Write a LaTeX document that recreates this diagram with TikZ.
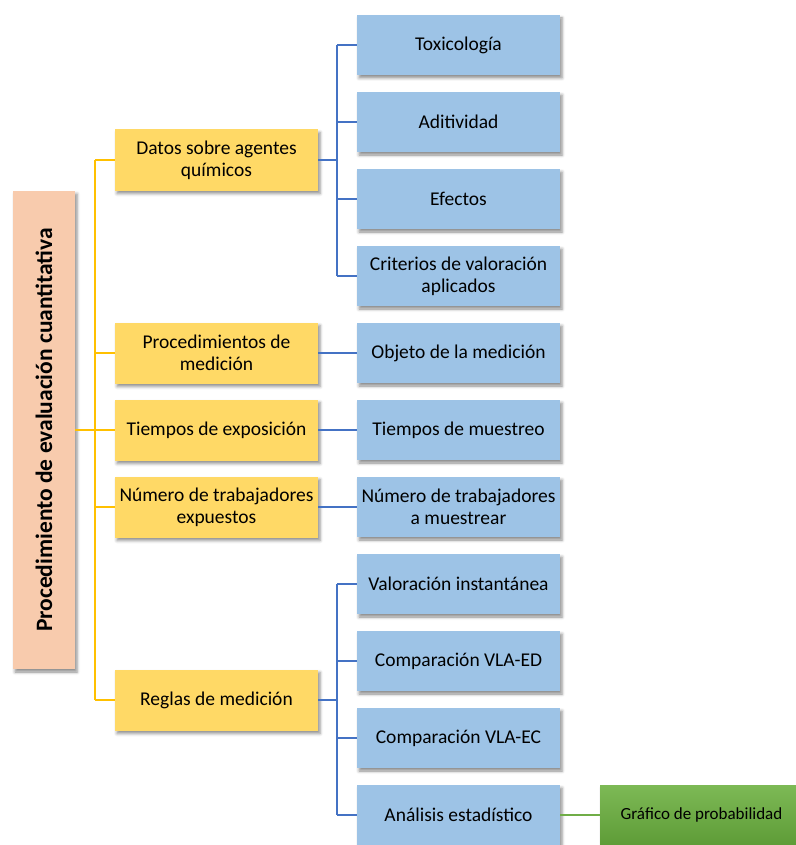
\documentclass[tikz,border=0pt]{standalone}
\usepackage{fontspec}
\setmainfont{Carlito}
\usetikzlibrary{shadows.blur}
\definecolor{peach}{HTML}{F8CBAD}
\definecolor{ybox}{HTML}{FFD966}
\definecolor{bbox}{HTML}{9DC3E6}
\definecolor{gtop}{HTML}{7DB955}
\definecolor{gbot}{HTML}{5E9C37}
\definecolor{yline}{HTML}{FFC000}
\definecolor{bline}{HTML}{4472C4}
\definecolor{gline}{HTML}{70AD47}
\tikzset{
  boxbase/.style={rectangle, inner sep=0pt, align=center,
    font=\fontsize{19.5}{22}\selectfont,
    blur shadow={shadow xshift=2pt, shadow yshift=-3pt, shadow blur radius=3pt, shadow opacity=45}},
  rootbox/.style={boxbase, fill=peach, rotate=90, minimum width=478pt, minimum height=62pt,
    font=\fontsize{23.5}{27}\selectfont\bfseries},
  ybox/.style={boxbase, fill=ybox, minimum width=203pt, minimum height=61pt},
  bbox/.style={boxbase, fill=bbox, minimum width=203pt, minimum height=60pt},
  gbox/.style={boxbase, top color=gtop, bottom color=gbot, minimum width=203pt, minimum height=60pt,
    font=\fontsize{17}{20}\selectfont},
  ylink/.style={draw=yline, line width=1.6pt},
  blink/.style={draw=bline, line width=1.6pt},
  glink/.style={draw=gline, line width=1.6pt},
}
\begin{document}
\begin{tikzpicture}[x=1pt,y=-1pt]
\useasboundingbox (0,0) rectangle (795,845);

% root
\node[rootbox] (root) at (44,430) {Procedimiento de evaluación cuantitativa};

% second level
\node[ybox] (datos) at (216.5,160) {Datos sobre agentes\\químicos};
\node[ybox] (proc)  at (216.5,353) {Procedimientos de\\medición};
\node[ybox] (tiem)  at (216.5,430) {Tiempos de exposición};
\node[ybox] (num)   at (216.5,507) {Número de trabajadores\\expuestos};
\node[ybox] (regl)  at (216.5,700) {Reglas de medición};

% third level
\node[bbox] (tox)  at (458.5,45)  {Toxicología};
\node[bbox] (adit) at (458.5,122) {Aditividad};
\node[bbox] (efec) at (458.5,199) {Efectos};
\node[bbox] (crit) at (458.5,276) {Criterios de valoración\\aplicados};
\node[bbox] (obj)  at (458.5,353) {Objeto de la medición};
\node[bbox] (tmue) at (458.5,430) {Tiempos de muestreo};
\node[bbox] (nmue) at (458.5,507) {Número de trabajadores\\a muestrear};
\node[bbox] (val)  at (458.5,584) {Valoración instantánea};
\node[bbox] (ved)  at (458.5,661) {Comparación VLA-ED};
\node[bbox] (vec)  at (458.5,738) {Comparación VLA-EC};
\node[bbox] (anal) at (458.5,815) {Análisis estadístico};

% fourth level
\node[gbox] (graf) at (701.5,815) {Gráfico de probabilidad};

% spines
\coordinate (ysp) at (95,430);
\coordinate (bsp1) at (337,160);
\coordinate (bsp2) at (337,700);

% yellow tree
\draw[ylink] (root.south) -- (ysp);
\draw[ylink] (ysp |- datos.west) -- (ysp |- regl.west);
\foreach \n in {datos,proc,tiem,num,regl}
  \draw[ylink] (ysp |- \n.west) -- (\n.west);

% blue trees
\draw[blink] (datos.east) -- (bsp1);
\draw[blink] (bsp1 |- tox.west) -- (bsp1 |- crit.west);
\foreach \n in {tox,adit,efec,crit}
  \draw[blink] (bsp1 |- \n.west) -- (\n.west);

\draw[blink] (regl.east) -- (bsp2);
\draw[blink] (bsp2 |- val.west) -- (bsp2 |- anal.west);
\foreach \n in {val,ved,vec,anal}
  \draw[blink] (bsp2 |- \n.west) -- (\n.west);

\draw[blink] (proc.east) -- (obj.west);
\draw[blink] (tiem.east) -- (tmue.west);
\draw[blink] (num.east) -- (nmue.west);

% green link
\draw[glink] (anal.east) -- (graf.west);
\end{tikzpicture}
\end{document}
